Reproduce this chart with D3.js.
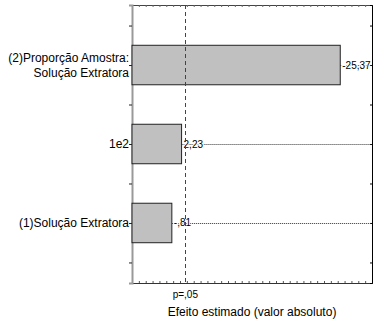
<!DOCTYPE html>
<html>
<head>
<meta charset="utf-8">
<script src="https://cdn.jsdelivr.net/npm/d3@7"></script>
<style>
  body { margin: 0; background: #fff; }
  text { font-family: "Liberation Sans", Arial, sans-serif; fill: #000; }
</style>
</head>
<body>
<svg id="chart"></svg>
<script>
// effects, bottom to top
const labels = [["(1)Solução Extratora"], ["1e2"], ["(2)Proporção Amostra:", "Solução Extratora"]];
const effects = [0.81, 2.23, 25.37];
const valueText = ["-,81", "2,23", "-25,37"];
const pCrit = 2.78;
const xDomain = [-5, 30];
const yDomain = [0.24, 3.76];

const margin = {top: 5, right: 8, bottom: 41, left: 132};
const W = 380, H = 324;
const width = W - margin.left - margin.right;
const height = H - margin.top - margin.bottom;

const x = d3.scaleLinear().domain(xDomain).range([0, width]);
const y = d3.scaleLinear().domain(yDomain).range([height, 0]);
const barH = y(0) - y(0.5);

const svg = d3.select('#chart')
    .attr('width', W)
    .attr('height', H)
  .append('g')
    .attr('transform', 'translate(' + margin.left + ',' + margin.top + ')');

// minor ticks, top and bottom
const xt = d3.range(xDomain[0], xDomain[1] + 1, 1);
svg.append('g')
    .attr('transform', 'translate(0,' + height + ')')
    .call(d3.axisTop(x).tickValues(xt).tickSize(2).tickFormat(''))
    .call(g => g.select('.domain').attr('stroke', '#333'))
    .call(g => g.selectAll('.tick line').attr('stroke', '#555'));
svg.append('g')
    .call(d3.axisBottom(x).tickValues(xt).tickSize(2).tickFormat(''))
    .call(g => g.select('.domain').attr('stroke', '#444'))
    .call(g => g.selectAll('.tick line').attr('stroke', '#666'));

// right border
const yt = d3.range(0.5, 3.6, 0.5);
svg.append('g')
    .attr('transform', 'translate(' + width + ',0)')
    .call(d3.axisLeft(y).tickValues(yt).tickSize(2).tickFormat(''))
    .call(g => g.select('.domain').attr('stroke', '#000'));

// left axis
svg.append('g')
    .call(d3.axisLeft(y).tickValues(yt).tickSize(3).tickFormat(''))
    .call(g => g.select('.domain').attr('stroke', '#999').attr('stroke-width', 2))
    .call(g => g.selectAll('.tick line').attr('stroke', '#222'));

// dotted leader lines
svg.append('g')
  .selectAll('line')
  .data(effects)
  .enter().append('line')
    .attr('x1', d => x(d))
    .attr('x2', width)
    .attr('y1', (d, i) => Math.round(y(i + 1)) + 0.5)
    .attr('y2', (d, i) => Math.round(y(i + 1)) + 0.5)
    .attr('stroke', '#333')
    .attr('stroke-width', 1)
    .attr('stroke-dasharray', '1,1');

// bars
svg.append('g')
  .selectAll('rect')
  .data(effects)
  .enter().append('rect')
    .attr('x', 0)
    .attr('y', (d, i) => y(i + 1) - barH / 2)
    .attr('width', d => x(d) - x(xDomain[0]))
    .attr('height', barH)
    .attr('fill', '#c0c0c0')
    .attr('stroke', '#222')
    .attr('stroke-width', 1);

// value labels
svg.append('g')
  .selectAll('text')
  .data(effects)
  .enter().append('text')
    .attr('x', d => x(d) + 2)
    .attr('y', (d, i) => y(i + 1))
    .attr('dy', '0.35em')
    .attr('font-size', 10)
    .attr('fill', '#222')
    .style('paint-order', 'stroke')
    .style('stroke', '#fff')
    .style('stroke-width', 2)
    .text((d, i) => valueText[i]);

// p = .05 line
svg.append('line')
    .attr('x1', Math.round(x(pCrit)) + 0.5)
    .attr('x2', Math.round(x(pCrit)) + 0.5)
    .attr('y1', 0)
    .attr('y2', height)
    .attr('stroke', '#444')
    .attr('stroke-dasharray', '4,3');

svg.append('text')
    .attr('x', x(pCrit))
    .attr('y', height + 15)
    .attr('text-anchor', 'middle')
    .attr('font-size', 10)
    .text('p=,05');

svg.append('text')
    .attr('x', width / 2)
    .attr('y', height + 33)
    .attr('text-anchor', 'middle')
    .attr('font-size', 12)
    .text('Efeito estimado (valor absoluto)');

// category labels
const cat = svg.append('g')
  .selectAll('text')
  .data(labels)
  .enter().append('text')
    .attr('text-anchor', 'end')
    .attr('font-size', 12)
    .attr('y', (d, i) => y(i + 1) - (d.length - 1) * 7.5);
cat.selectAll('tspan')
  .data(d => d)
  .enter().append('tspan')
    .attr('x', -3)
    .attr('dy', (d, j) => j === 0 ? '0.35em' : 15)
    .text(d => d);
</script>
</body>
</html>
